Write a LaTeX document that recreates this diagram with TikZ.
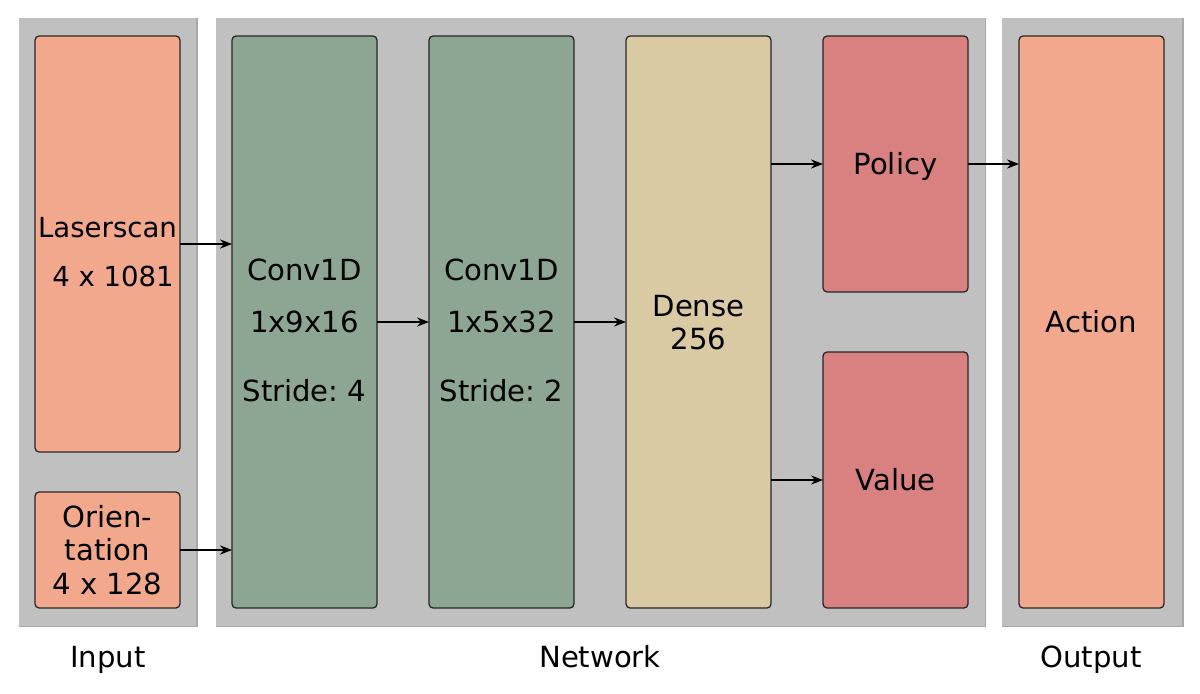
\documentclass[tikz,border=0pt]{standalone}
\usepackage{fontspec}
\setmainfont{DejaVu Sans}
\usetikzlibrary{arrows.meta}

\definecolor{panelgray}{HTML}{C0C0C0}
\definecolor{paneledge}{HTML}{A8A8A8}
\definecolor{salmon}{HTML}{F2A88C}
\definecolor{convgreen}{HTML}{8DA693}
\definecolor{densesand}{HTML}{D9CAA3}
\definecolor{headred}{HTML}{D98080}

\begin{document}
\frenchspacing
\begin{tikzpicture}[x=0.025cm,y=-0.025cm,
    panel/.style={fill=panelgray,inner sep=0pt,outer sep=0pt,minimum height=15.2cm},
    layer/.style={draw=black!85,line width=0.9pt,rounded corners=3pt,inner sep=0pt,outer sep=0pt,minimum width=3.625cm},
    txt/.style={align=center,font=\fontsize{20.7}{24}\selectfont},
    caption/.style={txt,anchor=base}]
  \tikzset{flow/.style={line width=0.9pt,-{Stealth[length=8.5pt,width=6.5pt]}}}
  \useasboundingbox (0,0) rectangle (1200,694);

  \node[panel,minimum width=4.45cm] (inputPanel) at (108,322) {};
  \node[panel,minimum width=19.225cm] (networkPanel) at (600.5,322) {};
  \node[panel,minimum width=4.525cm] (outputPanel) at (1092.5,322) {};
  \foreach \p in {inputPanel,networkPanel,outputPanel}
    \draw[paneledge,line width=0.8pt] (\p.north east) -- (\p.south east) -- (\p.south west);

  \node[layer,fill=salmon,minimum height=10.4cm] (laserscan) at (107.5,244) {};
  \node[layer,fill=salmon,minimum height=2.9cm] (orientation) at (107.5,550) {};
  \node[layer,fill=convgreen,minimum height=14.3cm] (convA) at (304.5,322) {};
  \node[layer,fill=convgreen,minimum height=14.3cm] (convB) at (501.5,322) {};
  \node[layer,fill=densesand,minimum height=14.3cm] (dense) at (698.5,322) {};
  \node[layer,fill=headred,minimum height=6.4cm] (policy) at (895.5,164) {};
  \node[layer,fill=headred,minimum height=6.4cm] (value) at (895.5,480) {};
  \node[layer,fill=salmon,minimum height=14.3cm] (action) at (1091.5,322) {};

  \node[txt,font=\fontsize{19.6}{24}\selectfont] (laserscanText) at (107.5,252.5) {Laserscan\\[10.7pt]\hspace*{0.4em}4 x 1081};
  \node[txt] (orientationText) at (107.5,550) {Orien-\\tation\\4 x 128};
  \node[txt] (convAText) at (304.5,330.5) {Conv1D\\[12.8pt]1x9x16\\[24.9pt]Stride: 4};
  \node[txt] (convBText) at (501.5,330.5) {Conv1D\\[12.8pt]1x5x32\\[24.9pt]Stride: 2};
  \node[txt] (denseText) at (698.5,322.5) {Dense\\256};
  \node[txt] (policyText) at (895.5,166) {Policy};
  \node[txt] (valueText) at (895.5,480) {Value};
  \node[txt] (actionText) at (1091.5,322) {Action};

  \node[caption] (inputLabel) at (108,667) {Input};
  \node[caption] (networkLabel) at (600,667) {Network};
  \node[caption] (outputLabel) at (1091,667) {Output};

  \draw[flow] (laserscan.east) -- (laserscan.east -| convA.west);
  \draw[flow] (orientation.east) -- (orientation.east -| convA.west);
  \draw[flow] (convA.east) -- (convB.west);
  \draw[flow] (convB.east) -- (dense.west);
  \draw[flow] (dense.east |- policy.west) -- (policy.west);
  \draw[flow] (dense.east |- value.west) -- (value.west);
  \draw[flow] (policy.east) -- (policy.east -| action.west);

\end{tikzpicture}
\end{document}
